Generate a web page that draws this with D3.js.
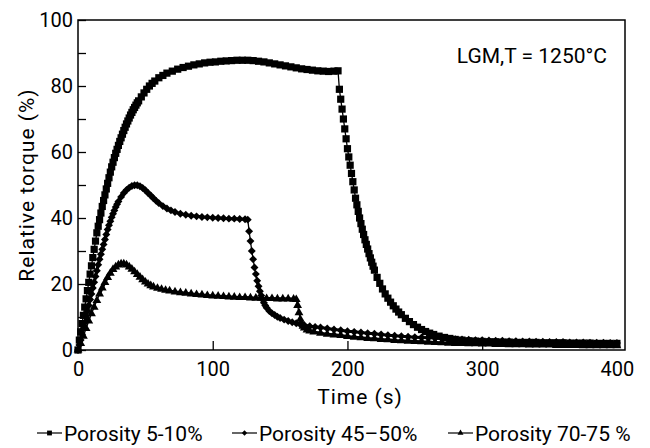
<!DOCTYPE html>
<html>
<head>
    <meta charset="utf-8">
    <title>Relative torque</title>
    <style>
        body { margin: 0; background: #fff; }
        svg text { font-family: Roboto, "Liberation Sans", sans-serif; fill: #000; }
    </style>
</head>
<body>
<svg id="chart" width="650" height="448"></svg>
<script src="https://d3js.org/d3.v7.min.js"></script>
<script>
    // [time (s), relative torque (%)]
    var porosity5to10 = [
        [0,0],[1,3],[2,5.5],[3,8],[4,10.5],[5,13],[6,15.5],[7,18],[8,20.5],[9,23],[10,25.5],
        [11,28],[12,30.5],[13,33],[14,35.5],[15,37.5],[16,39.5],[17,41.5],[18,43.5],[19,45.3],[20,47],
        [21,48.8],[22,50.5],[23,52.2],[24,53.9],[25,55.5],[26,56.9],[27,58.3],[28,59.6],[29,60.8],[30,62],
        [31,63.2],[32,64.3],[33,65.4],[34,66.5],[35,67.5],[36,68.5],[37,69.4],[38,70.3],[39,71.2],[40,72],
        [41,72.8],[42,73.5],[43,74.2],[44,74.9],[45,75.5],[47,76.7],[49,77.9],[51,79],[53,80],[55,80.8],
        [57,81.5],[60,82.5],[63,83.2],[66,83.9],[70,84.5],[74,85.1],[78,85.6],[82,86],[86,86.4],[90,86.7],
        [94,87],[98,87.2],[102,87.3],[106,87.5],[110,87.6],[114,87.7],[118,87.8],[122,87.8],[126,87.8],
        [130,87.7],[134,87.5],[138,87.3],[142,87],[146,86.7],[150,86.4],[154,86.1],[158,85.8],[162,85.5],
        [166,85.2],[170,85],[174,84.8],[178,84.6],[182,84.5],[186,84.4],[190,84.5],[193,84.6],
        [194,79],[195,76],[196,73],[197,70],[198,67],[199,64],[200,61],[201,58.5],[202,56],[203,53.5],
        [204,51],[205,48.5],[206,46],[207,44],[208,42],[209,40],[210,38.3],[211,36.6],[212,35],[213,33.4],
        [214,32],[215,30.6],[216,29.2],[217,27.9],[218,26.6],[219,25.4],[220,24.2],[222,22],[224,20.2],
        [226,18.5],[228,17],[230,15.7],[232,14.5],[234,13.4],[236,12.4],[238,11.5],[240,10.7],[243,9.6],
        [246,8.6],[249,7.7],[252,6.9],[255,6.2],[258,5.6],[261,5.1],[264,4.7],[268,4.2],[272,3.8],
        [276,3.5],[280,3.2],[285,3],[290,2.8],[295,2.7],[300,2.6],[305,2.5],[310,2.5],[315,2.4],[320,2.4],
        [325,2.3],[330,2.3],[335,2.3],[340,2.3],[345,2.2],[350,2.2],[355,2.2],[360,2.2],[365,2.1],[370,2.1],
        [375,2.1],[380,2.1],[385,2],[390,2],[395,2],[400,2]
    ];
    var porosity45to50 = [
        [0,0],[1,1.5],[2,3],[3,4.8],[4,6.5],[5,8.3],[6,10],[7,11.8],[8,13.5],[9,15.3],[10,17],
        [11,18.8],[12,20.5],[13,22.3],[14,24],[15,25.8],[16,27.5],[17,29],[18,30.5],[19,32],[20,33.5],
        [21,35],[22,36.5],[23,37.8],[24,39],[25,40.2],[26,41.3],[27,42.3],[28,43.3],[29,44.2],[30,45],
        [32,46.4],[34,47.6],[36,48.5],[38,49.2],[40,49.7],[42,49.9],[44,49.9],[46,49.6],[48,49.1],[50,48.4],
        [52,47.6],[54,46.8],[56,46],[58,45.2],[60,44.5],[63,43.6],[66,42.9],[69,42.3],[72,41.8],[76,41.3],
        [80,41],[84,40.7],[88,40.5],[92,40.3],[96,40.2],[100,40.1],[104,40],[108,39.9],[112,39.8],
        [116,39.8],[120,39.7],[124,39.6],[126,39.5],
        [127,36],[128,33],[129,30],[130,27.5],[131,25],[132,23],[133,21],[134,19.3],[135,17.8],[136,16.5],
        [137,15.3],[138,14.3],[139,13.5],[140,12.8],[142,11.8],[144,11.1],[146,10.6],[148,10.1],[150,9.7],
        [153,9.2],[156,8.8],[159,8.4],[162,8.1],[165,7.8],[168,7.5],[172,7.2],[176,7],[180,6.8],[185,6.5],
        [190,6.2],[195,6],[200,5.7],[205,5.5],[210,5.3],[215,5.1],[220,4.9],[225,4.7],[230,4.5],[235,4.3],
        [240,4.2],[245,4],[250,3.9],[255,3.8],[260,3.7],[265,3.6],[270,3.5],[275,3.4],[280,3.3],[285,3.2],
        [290,3.1],[295,3],[300,3],[305,2.9],[310,2.8],[315,2.8],[320,2.7],[325,2.7],[330,2.6],[335,2.6],
        [340,2.5],[345,2.5],[350,2.4],[355,2.4],[360,2.4],[365,2.3],[370,2.3],[375,2.3],[380,2.2],
        [385,2.2],[390,2.2],[395,2.1],[400,2.1]
    ];
    var porosity70to75 = [
        [0,0],[2,2],[4,4.2],[6,6.5],[8,8.8],[10,11],[12,13],[14,15],[16,17],[18,18.8],[20,20.5],
        [22,22],[24,23.3],[26,24.4],[28,25.2],[30,25.8],[32,26.1],[34,26.1],[36,25.8],[38,25.2],[40,24.5],
        [42,23.7],[44,22.9],[46,22.1],[48,21.3],[50,20.6],[52,20],[54,19.5],[56,19.1],[59,18.7],[62,18.4],
        [65,18.1],[68,17.9],[72,17.6],[76,17.4],[80,17.2],[84,17],[88,16.8],[92,16.7],[96,16.5],[100,16.4],
        [104,16.3],[108,16.2],[112,16.1],[116,16],[120,15.9],[124,15.9],[128,15.8],[132,15.7],[136,15.7],
        [140,15.6],[144,15.6],[148,15.5],[152,15.5],[156,15.5],[160,15.4],[162,15.3],
        [163,13.5],[164,11.3],[165,9.3],[166,8],[167,7.2],[168,6.7],[170,6.1],[172,5.8],[175,5.5],[180,5.1],
        [185,4.8],[190,4.6],[195,4.4],[200,4.1],[205,3.9],[210,3.7],[215,3.5],[220,3.4],[225,3.2],[230,3.1],
        [235,2.9],[240,2.8],[245,2.7],[250,2.6],[255,2.5],[260,2.4],[265,2.3],[270,2.2],[275,2.1],[280,2],
        [285,2],[290,1.9],[295,1.9],[300,1.8],[305,1.8],[310,1.7],[315,1.7],[320,1.6],[325,1.6],[330,1.6],
        [335,1.5],[340,1.5],[345,1.5],[350,1.5],[355,1.4],[360,1.4],[365,1.4],[370,1.4],[375,1.3],[380,1.3],
        [385,1.3],[390,1.3],[395,1.3],[400,1.3]
    ];

    var seriesNames = ['Porosity 5-10%', 'Porosity 45\u201350%', 'Porosity 70-75 %'];
    var xTicks = [0, 100, 200, 300, 400];
    var yTicks = [0, 10, 20, 30, 40, 50, 60, 70, 80, 90, 100];

    var series = [
        {name: seriesNames[0], data: porosity5to10, symbol: d3.symbolSquare, size: 52, width: 4, legendX: 37},
        {name: seriesNames[1], data: porosity45to50, symbol: d3.symbolDiamond2, size: 40, width: 3, legendX: 232},
        {name: seriesNames[2], data: porosity70to75, symbol: d3.symbolTriangle, size: 34, width: 3, legendX: 448}
    ];

    var svg = d3.select('#chart');

    var x = d3.scaleLinear().domain([0, 406]).range([78, 625]);
    var y = d3.scaleLinear().domain([0, 100]).range([350, 20]);

    // y axis, ticks pointing inward
    svg.append('g')
        .attr('transform', 'translate(78,0)')
        .call(d3.axisLeft(y)
            .tickValues(yTicks)
            .tickSizeInner(-8)
            .tickSizeOuter(0)
            .tickPadding(5)
            .tickFormat(function(d) { return d % 20 === 0 ? d : ''; }))
        .call(function(g) {
            g.select('.domain').remove();
            g.selectAll('line').attr('stroke', '#000').attr('stroke-width', 1.3);
            g.selectAll('text').style('font-size', '20px').attr('fill', '#000');
        });

    // x axis
    svg.append('g')
        .attr('transform', 'translate(0,350)')
        .call(d3.axisBottom(x)
            .tickValues(xTicks)
            .tickSizeInner(-9)
            .tickSizeOuter(0)
            .tickPadding(12))
        .call(function(g) {
            g.select('.domain').remove();
            g.selectAll('line')
                .attr('stroke', '#000').attr('stroke-width', 1.3)
                .attr('display', function(d) { return (d === 0 || d === 400) ? 'none' : null; });
            g.selectAll('text').style('font-size', '20px').attr('fill', '#000');
        });

    // frame
    svg.append('rect')
        .attr('x', x(0)).attr('y', y(100))
        .attr('width', x(406) - x(0)).attr('height', y(0) - y(100))
        .attr('fill', 'none').attr('stroke', '#000').attr('stroke-width', 1.5);

    // axis titles
    svg.append('text')
        .attr('transform', 'translate(34,' + y(50) + ') rotate(-90)')
        .attr('text-anchor', 'middle')
        .style('font-size', '21px').style('letter-spacing', '1px')
        .text('Relative torque (%)');

    svg.append('text')
        .attr('x', 360).attr('y', 404)
        .attr('text-anchor', 'middle')
        .style('font-size', '21px').style('letter-spacing', '1px')
        .text('Time (s)');

    svg.append('text')
        .attr('x', 607).attr('y', 63)
        .attr('text-anchor', 'end')
        .style('font-size', '21px')
        .text('LGM,T = 1250\u00b0C');

    var line = d3.line()
        .x(function(d) { return x(d[0]); })
        .y(function(d) { return y(d[1]); });

    series.forEach(function(s) {
        // where the markers pile up they read as a solid band
        var dense = s.data.map(function(d, i, a) {
            var prev = a[i - 1] || d, next = a[i + 1] || d;
            return Math.abs(next[1] - prev[1]) < 4;
        });

        svg.append('path')
            .datum(s.data)
            .attr('d', line)
            .attr('fill', 'none')
            .attr('stroke', '#000')
            .attr('stroke-width', 1.3);

        svg.append('path')
            .datum(s.data)
            .attr('d', d3.line()
                .defined(function(d, i) { return dense[i]; })
                .x(function(d) { return x(d[0]); })
                .y(function(d) { return y(d[1]); }))
            .attr('fill', 'none')
            .attr('stroke', '#000')
            .attr('stroke-linejoin', 'round')
            .attr('stroke-width', s.width);

        svg.append('g').selectAll('path')
            .data(s.data)
            .enter()
            .append('path')
            .attr('transform', function(d) { return 'translate(' + x(d[0]) + ',' + y(d[1]) + ')'; })
            .attr('d', d3.symbol().type(s.symbol).size(s.size))
            .attr('fill', '#000');
    });

    // legend
    var legend = svg.append('g').attr('transform', 'translate(0,433)');
    series.forEach(function(s) {
        legend.append('line')
            .attr('x1', s.legendX).attr('x2', s.legendX + 25)
            .attr('y1', 0).attr('y2', 0)
            .attr('stroke', '#000').attr('stroke-width', 1.2);
        legend.append('path')
            .attr('transform', 'translate(' + (s.legendX + 12.5) + ',0)')
            .attr('d', d3.symbol().type(s.symbol).size(s.size * 0.45))
            .attr('fill', '#000');
        legend.append('text')
            .attr('x', s.legendX + 27).attr('y', 8)
            .style('font-size', '21px')
            .text(s.name);
    });
</script>
</body>
</html>
